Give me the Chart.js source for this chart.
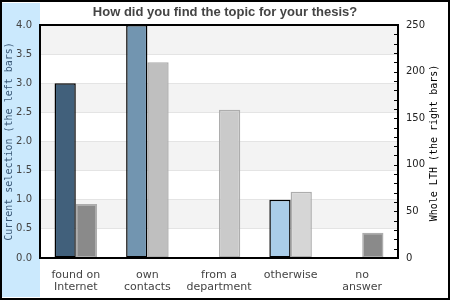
<!DOCTYPE html>
<html lang="en">
<head>
  <meta charset="UTF-8">
  <title>Thesis topic</title>
  <script src="https://cdn.jsdelivr.net/npm/chart.js"></script>
  <style>
    body { margin: 0; background: #fff; }
    canvas { display: block; }
  </style>
</head>
<body>
  <canvas id="topicChart" width="450" height="300"></canvas>

  <script>
    // Data
    const categories = [['found on', 'Internet'], ['own', 'contacts'], ['from a', 'department'], ['otherwise'], ['no', 'answer']];
    const currentSelection = [3, 4, 0, 1, 0];      // left axis
    const wholeLTH = [58, 210, 159, 71, 27];       // right axis
    const leftMax = 4;
    const rightMax = 250;

    const leftColors = ['#41607b', '#7295b0', '#8fb1cc', '#aacde9', '#41607b'];
    const rightColors = ['#8a8a8a', '#bfbfbf', '#cacaca', '#d6d6d6', '#8a8a8a'];

    // Background, blue strip, bands, frame, right ticks and right axis title
    const decorations = {
      id: 'decorations',
      beforeDraw(chart) {
        const { ctx, chartArea: a, scales } = chart;
        ctx.save();
        ctx.fillStyle = '#fff';
        ctx.fillRect(0, 0, chart.width, chart.height);
        ctx.fillStyle = '#cbe9fd';
        ctx.fillRect(2, 3, a.left - 2, 294);
        // alternating bands every 0.5 on the left scale
        ctx.fillStyle = '#f3f3f3';
        for (let v = 0.5; v < leftMax; v += 1) {
          const y1 = scales.y.getPixelForValue(v + 0.5);
          const y0 = scales.y.getPixelForValue(v);
          ctx.fillRect(a.left, y1, a.right - a.left, y0 - y1);
        }
        ctx.restore();
      },
      afterDraw(chart) {
        const { ctx, chartArea: a, scales } = chart;
        ctx.save();
        ctx.strokeStyle = '#000';
        // small inward tick marks on the right axis
        ctx.lineWidth = 1;
        ctx.beginPath();
        scales.y1.ticks.forEach((t) => {
          const y = Math.round(scales.y1.getPixelForValue(t.value)) + 0.5;
          ctx.moveTo(a.right - 4, y);
          ctx.lineTo(a.right, y);
        });
        ctx.stroke();
        ctx.lineWidth = 2;
        ctx.strokeRect(a.left, a.top, a.right - a.left, a.bottom - a.top);
        ctx.strokeRect(1, 1, chart.width - 2, chart.height - 2);
        // right title reads bottom to top like the left one
        ctx.translate(434, 143);
        ctx.rotate(-Math.PI / 2);
        ctx.fillStyle = '#000';
        ctx.font = '10px "DejaVu Sans Mono"';
        ctx.textAlign = 'center';
        ctx.textBaseline = 'middle';
        ctx.fillText('Whole LTH (the right bars)', 0, 0);
        ctx.restore();
      }
    };

    const ctx = document.getElementById('topicChart').getContext('2d');
    new Chart(ctx, {
      type: 'bar',
      data: {
        labels: categories,
        datasets: [{
          label: 'Current selection',
          data: currentSelection,
          yAxisID: 'y',
          backgroundColor: leftColors,
          borderColor: '#000',
          borderWidth: (c) => c.raw > 0 ? 1.5 : 0,
          borderSkipped: false
        }, {
          label: 'Whole LTH',
          data: wholeLTH,
          yAxisID: 'y1',
          backgroundColor: rightColors,
          borderColor: '#adadad',
          borderWidth: (c) => c.raw > 0 ? 1.5 : 0,
          borderSkipped: false
        }]
      },
      options: {
        responsive: false,
        animation: false,
        layout: { padding: 0 },
        categoryPercentage: 0.594,
        barPercentage: 1,
        plugins: {
          legend: { display: false },
          tooltip: { enabled: false },
          title: {
            display: true,
            text: 'How did you find the topic for your thesis?',
            color: '#444',
            font: { family: 'Liberation Sans', size: 13, weight: 'bold' },
            padding: { top: 5, bottom: 4.4 }
          }
        },
        scales: {
          x: {
            grid: { display: false },
            border: { display: false },
            ticks: {
              color: '#444',
              padding: 3,
              maxRotation: 0,
              autoSkip: false,
              font: { family: 'DejaVu Sans', size: 11, lineHeight: 1.1 }
            },
            afterFit: (s) => { s.height = 42; }
          },
          y: {
            position: 'left',
            min: 0,
            max: leftMax,
            grid: { color: '#e4e4e4', drawTicks: false },
            border: { display: false },
            ticks: {
              stepSize: 0.5,
              padding: 8,
              color: '#444',
              font: { family: 'DejaVu Sans', size: 10 },
              callback: (v) => v.toFixed(1)
            },
            title: {
              display: true,
              text: 'Current selection (the left bars)',
              color: '#3a5876',
              font: { family: 'DejaVu Sans Mono', size: 10 },
              padding: { top: 3, bottom: 0 }
            },
            afterFit: (s) => { s.width = 40; }
          },
          y1: {
            position: 'right',
            min: 0,
            max: rightMax,
            grid: { drawOnChartArea: false, drawTicks: false },
            border: { display: false },
            ticks: {
              stepSize: 10,
              padding: 8,
              color: '#222',
              autoSkip: false,
              font: { family: 'DejaVu Sans', size: 10 },
              callback: (v) => v % 50 === 0 ? v : ''
            },
            afterFit: (s) => { s.width = 52; }
          }
        }
      },
      plugins: [decorations]
    });
  </script>
</body>
</html>
